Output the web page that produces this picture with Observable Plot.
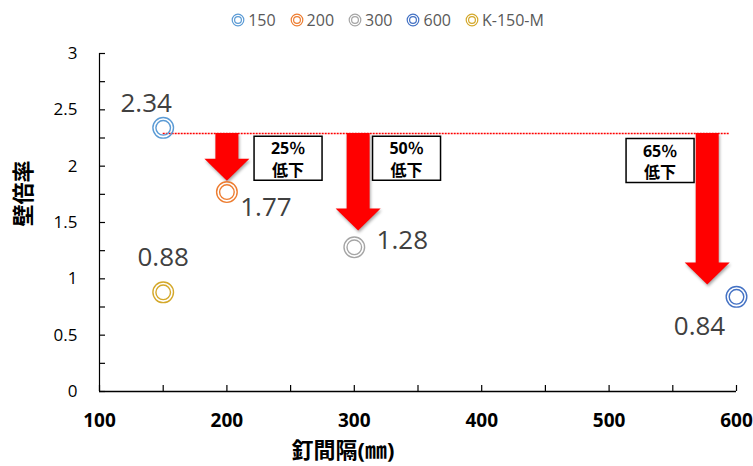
<!DOCTYPE html>
<html>
<head>
<meta charset="utf-8">
<script src="https://cdn.jsdelivr.net/npm/d3@7"></script>
<script src="https://cdn.jsdelivr.net/npm/@observablehq/plot@0.6"></script>
<style>
  html, body { margin: 0; padding: 0; background: #fff; }
  body { width: 753px; height: 466px; overflow: hidden; font-family: "Open Sans", "Noto Sans CJK JP", sans-serif; }
  #legend { height: 40px; display: flex; justify-content: center; align-items: center; padding-left: 22px; box-sizing: border-box; gap: 14px; font-size: 16px; color: #595959; }
  #legend .item { display: flex; align-items: center; gap: 3px; }
  #legend svg { display: block; }
</style>
</head>
<body>
<div id="legend"></div>
<div id="chart"></div>
<script>
// Wall magnification by nail spacing
const series = ["150", "200", "300", "600", "K-150-M"];
const nailSpacing = [150, 200, 300, 600, 150];
const wallRatio = [2.34, 1.77, 1.28, 0.84, 0.88];
const seriesColors = ["#5B9BD5", "#ED7D31", "#A5A5A5", "#4472C4", "#D4A82A"];

// Axis ticks
const xTicks = [100, 200, 300, 400, 500, 600];
const xMinorTicks = [100, 150, 200, 250, 300, 350, 400, 450, 500, 550, 600];
const yTicks = [0, 0.5, 1, 1.5, 2, 2.5, 3];
const yMinorTicks = [0, 0.25, 0.5, 0.75, 1, 1.25, 1.5, 1.75, 2, 2.25, 2.5, 2.75, 3];

// Reference level and the drops from it
const referenceLevel = 2.29;
const referenceSpan = [150, 595];
const dropX = [200, 303, 577];
const dropTo = [1.87, 1.43, 0.95];
const dropNoteText = ["25％\n低下", "50％\n低下", "65％\n低下"];
const dropNoteX = [248, 341, 540];
const dropNoteY = [2.07, 2.07, 2.05];

const xLabel = "釘間隔(㎜)";
const yLabel = "壁倍率";

const points = series.map((s, i) => ({series: s, x: nailSpacing[i], y: wallRatio[i]}));
const drops = dropX.map((x, i) => ({x, from: referenceLevel, to: dropTo[i], note: dropNoteText[i], nx: dropNoteX[i], ny: dropNoteY[i]}));

// Layout
const width = 753, height = 426;
const marginLeft = 99, marginRight = 17, marginTop = 13, marginBottom = 75;
const xDomain = [100, 600], yDomain = [0, 3];
const pxPerX = (width - marginLeft - marginRight) / (xDomain[1] - xDomain[0]);
const pxPerY = (height - marginTop - marginBottom) / (yDomain[1] - yDomain[0]);
const tickLen = 6;

// Per-series value label placement (pixels)
const labelOffset = {
  "150": [-17, -24],
  "200": [39, 16],
  "300": [48, -7],
  "600": [-37, 30],
  "K-150-M": [0, -35]
};

const arrowHead = {
  draw(ctx) {
    ctx.moveTo(0, 0);
    ctx.lineTo(-22.5, -22);
    ctx.lineTo(22.5, -22);
    ctx.closePath();
  }
};
const noteBox = {
  draw(ctx) { ctx.rect(-34, -22, 68, 44); }
};

const font = '"Open Sans", "Noto Sans CJK JP", sans-serif';

const chart = Plot.plot({
  width, height, marginLeft, marginRight, marginTop, marginBottom,
  style: {fontFamily: font, background: "white", color: "black", overflow: "visible"},
  x: {domain: xDomain, label: null},
  y: {domain: yDomain, label: null},
  color: {domain: series, range: seriesColors},
  marks: [
    // axes
    Plot.axisX({ticks: xTicks, tickSize: 0, tickPadding: 22, fontSize: 19, fontWeight: "bold", fill: "black", label: null, tickFormat: d => String(d)}),
    Plot.axisY({ticks: yTicks, tickSize: 0, tickPadding: 22, fontSize: 17, fill: "black", label: null, tickFormat: d => String(d)}),
    Plot.ruleX(xMinorTicks, {x: d => d, y1: 0, y2: tickLen / pxPerY, stroke: "black", strokeWidth: 1.2}),
    Plot.ruleY(yMinorTicks, {y: d => d, x1: xDomain[0], x2: xDomain[0] + tickLen / pxPerX, stroke: "black", strokeWidth: 1.2}),
    Plot.ruleX([xDomain[0]], {stroke: "black", strokeWidth: 1.2}),
    Plot.ruleY([0], {stroke: "black", strokeWidth: 1.5}),
    Plot.text([xLabel], {text: d => d, frameAnchor: "bottom", dx: -75, dy: 66, fontSize: 22, fontWeight: "bold", fill: "black"}),
    Plot.text([yLabel], {text: d => d, frameAnchor: "left", rotate: -90, dx: -76, dy: 4, fontSize: 22, fontWeight: "bold", fill: "black"}),

    // reference level
    Plot.ruleY([referenceLevel], {x1: referenceSpan[0], x2: referenceSpan[1], stroke: "red", strokeWidth: 1.6, strokeDasharray: "2,1"}),

    // drop arrows
    Plot.ruleX(drops, {x: "x", y1: "from", y2: "to", stroke: "red", strokeWidth: 23, insetBottom: 21}),
    Plot.dot(drops, {x: "x", y: "to", symbol: arrowHead, r: 10, fill: "red", stroke: "none"}),

    // drop notes
    Plot.dot(drops, {x: "nx", y: "ny", symbol: noteBox, r: 10, fill: "white", stroke: "black", strokeWidth: 1.5}),
    Plot.text(drops, {x: "nx", y: "ny", text: "note", fontSize: 16, fontWeight: "bold", lineHeight: 1.35, fill: "black", dy: 0}),

    // double-ring markers
    Plot.dot(points, {x: "x", y: "y", stroke: "series", r: 10.3, strokeWidth: 1.4, fill: "none"}),
    Plot.dot(points, {x: "x", y: "y", stroke: "series", r: 7.3, strokeWidth: 1.4, fill: "none"}),

    // value labels
    ...series.map(s => Plot.text(points.filter(p => p.series === s), {
      x: "x", y: "y", text: d => String(d.y),
      dx: labelOffset[s][0], dy: labelOffset[s][1],
      fontSize: 26, fill: "#404040"
    }))
  ]
});

// soft shadow under the red arrows
const shafts = chart.querySelector('g[aria-label="rule"][stroke="red"][stroke-width="23"]');
const heads = chart.querySelector('g[aria-label="dot"][fill="red"]');
if (shafts && heads) {
  const g = document.createElementNS("http://www.w3.org/2000/svg", "g");
  g.setAttribute("style", "filter: drop-shadow(1.5px 2px 1.5px rgba(0,0,0,0.35))");
  shafts.parentNode.insertBefore(g, shafts);
  g.appendChild(shafts);
  g.appendChild(heads);
}

document.getElementById("chart").appendChild(chart);

// legend
const legend = d3.select("#legend");
series.forEach((s, i) => {
  const item = legend.append("div").attr("class", "item");
  const icon = item.append("svg").attr("width", 14).attr("height", 14);
  icon.append("circle").attr("cx", 7).attr("cy", 7).attr("r", 5.8).attr("fill", "none").attr("stroke", seriesColors[i]).attr("stroke-width", 1.2);
  icon.append("circle").attr("cx", 7).attr("cy", 7).attr("r", 3.4).attr("fill", "none").attr("stroke", seriesColors[i]).attr("stroke-width", 1.2);
  item.append("span").text(s);
});
</script>
</body>
</html>
